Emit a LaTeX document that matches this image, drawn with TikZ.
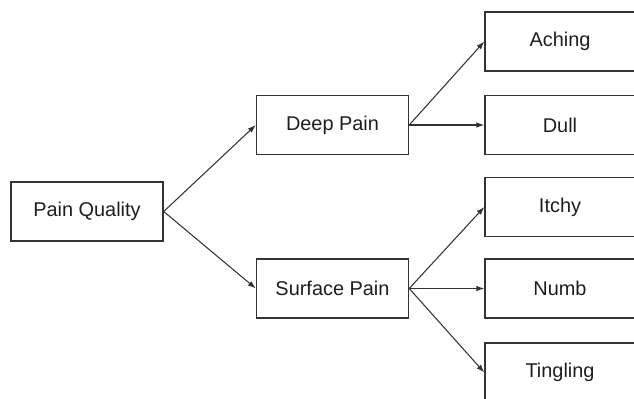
\documentclass[tikz,border=0pt]{standalone}
\usepackage{fontspec}
\setmainfont{Liberation Sans}
\usepackage{tikz}
\usetikzlibrary{arrows.meta}
\definecolor{ink}{HTML}{333333}
\definecolor{txt}{HTML}{1E1E1E}

\begin{document}
\begin{tikzpicture}[
  box/.style={draw=ink,line width=1.2pt,fill=white,text=txt,minimum width=4.56cm,minimum height=1.77cm,inner sep=0pt,font=\fontsize{17}{20}\selectfont},
  arr/.style={-{Latex[length=2.4mm,width=1.7mm]},draw=ink,line width=0.9pt}]
  \useasboundingbox (0,0) rectangle (19.02,11.94);
  \node[box] (quality) at (2.61,5.595) {Pain Quality};
  \node[box] (deep) at (9.975,8.19) {Deep Pain};
  \node[box] (surface) at (9.975,3.285) {Surface Pain};
  \draw[arr] (quality.east) -- (deep.west);
  \draw[arr] (quality.east) -- (surface.west);
  \foreach \name/\y/\lab/\from in {aching/10.695/Aching/deep, dull/8.19/Dull/deep, itchy/5.73/Itchy/surface, numb/3.285/Numb/surface, tingling/0.765/Tingling/surface}{
    \node[box,minimum width=4.5cm] (\name) at (16.8,\y) {\lab};
    \draw[arr] (\from.east) -- (\name.west);
  }
\end{tikzpicture}
\end{document}
